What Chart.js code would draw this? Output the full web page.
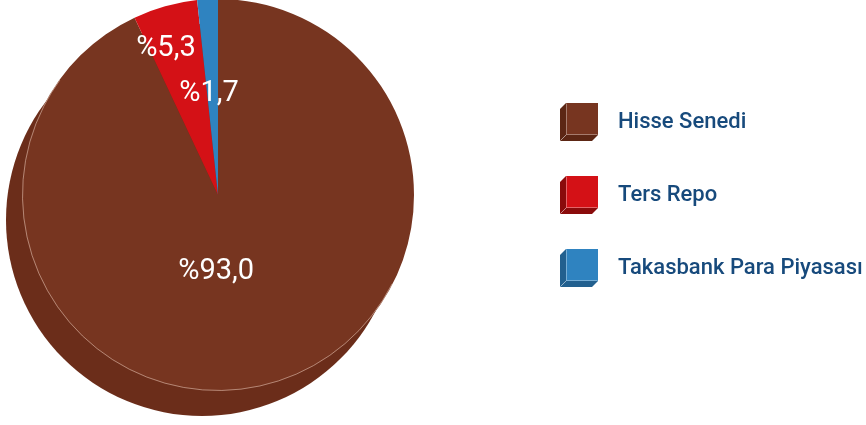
<!DOCTYPE html>
<html>
<head>
<meta charset="utf-8">
<script src="https://cdn.jsdelivr.net/npm/chart.js@4.4.1/dist/chart.umd.min.js"></script>
<style>
    html, body { margin: 0; padding: 0; background: #fff; }
    #wrap { width: 866px; height: 425px; position: relative; }
</style>
</head>
<body>
<div id="wrap"><canvas id="grafico"></canvas></div>
<script>
// datos
const etiquetas = ["Hisse Senedi", "Ters Repo", "Takasbank Para Piyasası"];
const valores = [93.0, 5.3, 1.7];
const textos = ["%93,0", "%5,3", "%1,7"];

const colores = ["#773520", "#d41116", "#2f83c0"];
const coloresOscuros = ["#5c2614", "#8a0b0b", "#22608f"];

// icono 3D para la leyenda (lienzo ancho, la caja va a la derecha)
const ANCHO_ICONO = 120;
function iconoCaja(color, oscuro) {
    const c = document.createElement('canvas');
    c.width = ANCHO_ICONO; c.height = 38;
    const g = c.getContext('2d');
    g.translate(73, 0);
    // cara izquierda
    g.fillStyle = oscuro;
    g.beginPath();
    g.moveTo(0, 6); g.lineTo(6, 0); g.lineTo(6, 32); g.lineTo(0, 38); g.closePath();
    g.fill();
    // cara inferior
    g.beginPath();
    g.moveTo(0, 38); g.lineTo(6, 32); g.lineTo(38, 32); g.lineTo(32, 38); g.closePath();
    g.fill();
    // frente
    g.fillStyle = color;
    g.fillRect(6, 0, 32, 32);
    g.strokeStyle = 'rgba(255,255,255,0.35)';
    g.lineWidth = 1;
    g.beginPath();
    g.moveTo(0.5, 37.5); g.lineTo(6.5, 31.5); g.lineTo(37.5, 31.5);
    g.moveTo(6.5, 31.5); g.lineTo(6.5, 0.5);
    g.stroke();
    return c;
}
const iconos = colores.map((c, i) => iconoCaja(c, coloresOscuros[i]));

// sombra (lado 3D) del pastel
const sombraPastel = {
    id: 'sombraPastel',
    beforeDatasetsDraw(chart) {
        const arco = chart.getDatasetMeta(0).data[0];
        if (!arco) return;
        const ctx = chart.ctx;
        ctx.save();
        ctx.fillStyle = '#6b2d1a';
        ctx.beginPath();
        ctx.arc(arco.x - 16, arco.y + 25, arco.outerRadius, 0, Math.PI * 2);
        ctx.fill();
        ctx.restore();
    },
    afterDatasetsDraw(chart) {
        const arco = chart.getDatasetMeta(0).data[0];
        const ctx = chart.ctx;
        ctx.save();
        ctx.strokeStyle = 'rgba(230,200,185,0.7)';
        ctx.lineWidth = 0.8;
        ctx.beginPath();
        ctx.arc(arco.x, arco.y, arco.outerRadius - 0.5, Math.PI * 0.15, Math.PI * 1.2);
        ctx.stroke();
        ctx.restore();
    }
};

// etiquetas de porcentaje
const ajusteAngulo = [14, -4, -2];
const ajusteRadio = [0.39, 0.79, 0.52];
const etiquetasPastel = {
    id: 'etiquetasPastel',
    afterDatasetsDraw(chart) {
        const ctx = chart.ctx;
        ctx.save();
        ctx.fillStyle = '#ffffff';
        ctx.font = '400 29px Roboto';
        ctx.textAlign = 'center';
        ctx.textBaseline = 'middle';
        chart.getDatasetMeta(0).data.forEach((arco, i) => {
            const medio = (arco.startAngle + arco.endAngle) / 2 + ajusteAngulo[i] * Math.PI / 180;
            const r = arco.outerRadius * ajusteRadio[i];
            ctx.fillText(textos[i], arco.x + Math.cos(medio) * r, arco.y + Math.sin(medio) * r);
        });
        ctx.restore();
    }
};

const ctx = document.getElementById('grafico').getContext('2d');
const grafico = new Chart(ctx, {
    type: 'pie',
    data: {
        labels: etiquetas,
        datasets: [{
            data: valores,
            backgroundColor: colores,
            borderWidth: 0,
            hoverOffset: 0
        }]
    },
    options: {
        responsive: true,
        maintainAspectRatio: false,
        animation: false,
        radius: 196,
        layout: { padding: { left: 0, top: 0, bottom: 35, right: 4 } },
        plugins: {
            tooltip: { enabled: false },
            legend: {
                position: 'right',
                align: 'center',
                maxWidth: 426,
                labels: {
                    usePointStyle: true,
                    pointStyleWidth: ANCHO_ICONO,
                    padding: 51,
                    color: '#174a7c',
                    font: { family: 'Roboto', size: 22, weight: '500' },
                    generateLabels(chart) {
                        return etiquetas.map((t, i) => ({
                            text: t,
                            fillStyle: colores[i],
                            strokeStyle: colores[i],
                            lineWidth: 0,
                            pointStyle: iconos[i],
                            hidden: false,
                            index: i,
                            fontColor: '#174a7c'
                        }));
                    }
                }
            }
        }
    },
    plugins: [sombraPastel, etiquetasPastel]
});
</script>
</body>
</html>
